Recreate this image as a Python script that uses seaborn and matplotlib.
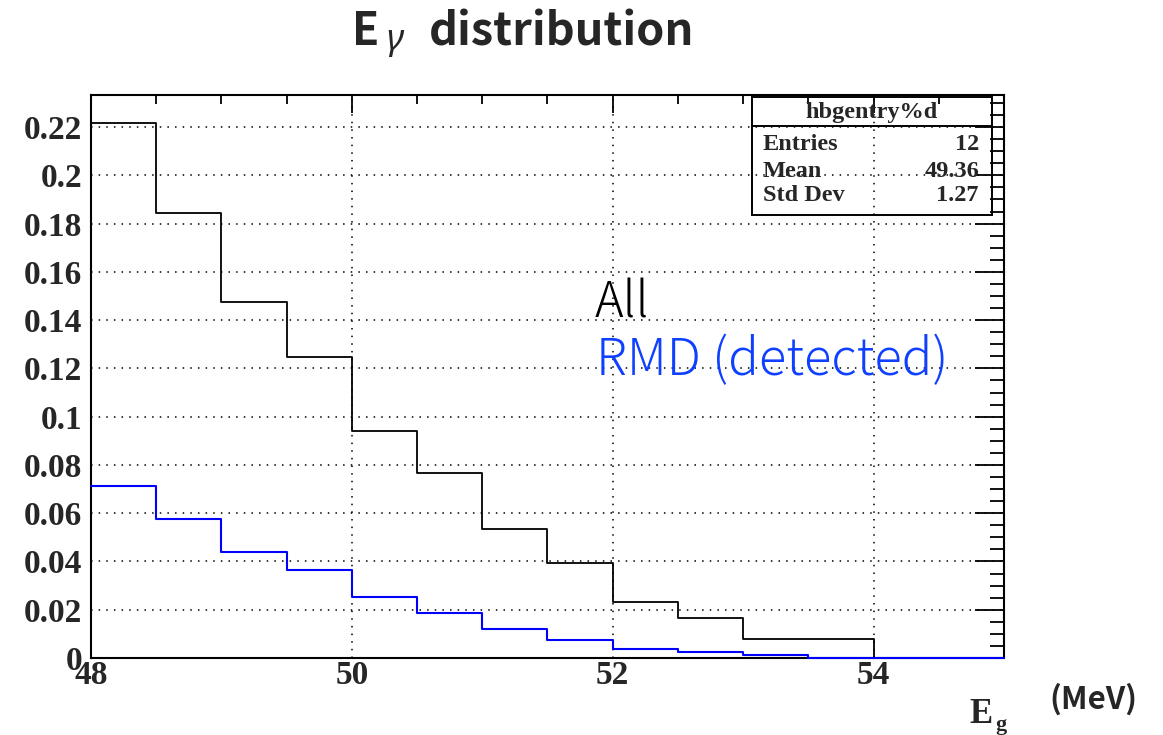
import numpy as np
import pandas as pd
import matplotlib
matplotlib.use("Agg")
import matplotlib.pyplot as plt
from matplotlib.ticker import MultipleLocator, FixedLocator, FixedFormatter
from matplotlib.patches import Rectangle
import seaborn as sns

# ---- data ----
bin_low = [48.0, 48.5, 49.0, 49.5, 50.0, 50.5, 51.0, 51.5, 52.0, 52.5, 53.0, 53.5, 54.0, 54.5]
all_vals = [0.2218, 0.1843, 0.1474, 0.1249, 0.0941, 0.0765, 0.0536, 0.0395,
            0.0233, 0.0167, 0.0078, 0.0078, 0.0, 0.0]
rmd_vals = [0.0714, 0.0576, 0.0438, 0.0365, 0.0252, 0.0185, 0.0120, 0.0075,
            0.0036, 0.0024, 0.0011, 0.0, 0.0, 0.0]
bin_width = 0.5
x_range = (48, 55)
y_max = 0.2333
x_ticks = [48, 50, 52, 54]
x_tick_labels = ["48", "50", "52", "54"]
y_ticks = [0, 0.02, 0.04, 0.06, 0.08, 0.10, 0.12, 0.14, 0.16, 0.18, 0.20, 0.22]
y_tick_labels = ["0", "0.02", "0.04", "0.06", "0.08", "0.1", "0.12", "0.14",
                 "0.16", "0.18", "0.2", "0.22"]
stats_title = "hbgentry%d"
stats_names = ["Entries", "Mean", "Std Dev"]
stats_values = ["12", "49.36", "1.27"]
label_all = "All"
label_rmd = "RMD (detected)"

df = pd.DataFrame({
    "center": [b + bin_width / 2 for b in bin_low] * 2,
    "weight": all_vals + rmd_vals,
    "series": ["All"] * len(bin_low) + ["RMD"] * len(bin_low),
})

sns.set_style("white")
plt.rcParams["font.family"] = ["Liberation Serif", "DejaVu Serif"]

W, H = 1163, 735
fig = plt.figure(figsize=(W / 100, H / 100), dpi=100)
left, right, top, bottom = 91, 1004, 95, 658
ax = fig.add_axes([left / W, 1 - bottom / H, (right - left) / W, (bottom - top) / H])

BLUE = "#0000ff"
for name, col, lw in [("All", "black", 1.3), ("RMD", BLUE, 1.5)]:
    sub = df[df["series"] == name]
    sns.histplot(data=sub, x="center", weights="weight", binwidth=bin_width,
                 binrange=x_range, element="step", fill=False, color=col,
                 linewidth=lw, ax=ax, zorder=3, clip_on=False)

ax.set_xlim(*x_range)
ax.set_ylim(0, y_max)
ax.set_xlabel("")
ax.set_ylabel("")

ax.xaxis.set_major_locator(FixedLocator(x_ticks))
ax.xaxis.set_major_formatter(FixedFormatter(x_tick_labels))
ax.xaxis.set_minor_locator(MultipleLocator(0.5))
ax.yaxis.set_major_locator(FixedLocator(y_ticks))
ax.yaxis.set_major_formatter(FixedFormatter(y_tick_labels))
ax.yaxis.set_minor_locator(MultipleLocator(0.005))

ax.tick_params(which="both", direction="in", top=True, right=True,
               color="black", width=1.3)
ax.tick_params(axis="x", which="major", length=13, pad=1.5, labelsize=24)
ax.tick_params(axis="x", which="minor", length=6.5)
ax.tick_params(axis="y", which="major", length=21, pad=6.5, labelsize=24)
ax.tick_params(axis="y", which="minor", length=10)
for lab in ax.get_xticklabels() + ax.get_yticklabels():
    lab.set_fontweight("bold")

ax.grid(True, which="major", color="black", linestyle=(0, (1, 4)), linewidth=1.1)
ax.set_axisbelow(True)
for sp in ax.spines.values():
    sp.set_color("black")
    sp.set_linewidth(1.5)
    sp.set_zorder(2.5)

# stats box (axes fraction)
bx0, bx1 = (752 - left) / (right - left), (992 - left) / (right - left)
by_top, by_bot = (bottom - 97) / (bottom - top), (bottom - 215) / (bottom - top)
by_hdr = (bottom - 126) / (bottom - top)
ax.add_patch(Rectangle((bx0, by_bot), bx1 - bx0, by_top - by_bot, transform=ax.transAxes,
                       fill=False, edgecolor="black", linewidth=1.4, zorder=5))
ax.plot([bx0, bx1], [by_hdr, by_hdr], transform=ax.transAxes, color="black",
        linewidth=1.4, zorder=5)
ax.text((bx0 + bx1) / 2, (bottom - 118) / (bottom - top), stats_title,
        transform=ax.transAxes, ha="center", va="baseline", fontsize=17.5,
        fontweight="bold", zorder=6)
row_base = [150, 177, 201]
for nm, val, yb in zip(stats_names, stats_values, row_base):
    yy = (bottom - yb) / (bottom - top)
    ax.text((763 - left) / (right - left), yy, nm, transform=ax.transAxes,
            ha="left", va="baseline", fontsize=17.5, fontweight="bold", zorder=6)
    ax.text((979 - left) / (right - left), yy, val, transform=ax.transAxes,
            ha="right", va="baseline", fontsize=17.5, fontweight="bold", zorder=6)

jp = ["Noto Sans CJK JP", "DejaVu Sans"]
ax.text((595 - left) / (right - left), (bottom - 318) / (bottom - top), label_all,
        transform=ax.transAxes, ha="left", va="baseline", fontsize=35,
        family=jp, fontweight="light", color="black", zorder=6)
ax.text((596 - left) / (right - left), (bottom - 375) / (bottom - top), label_rmd,
        transform=ax.transAxes, ha="left", va="baseline", fontsize=36.5,
        family=jp, fontweight="light", color="#1040ff", zorder=6)

# title pieces
fig.text(352 / W, 1 - 45 / H, "E", ha="left", va="baseline", fontsize=32,
         fontweight="bold", family=jp)
fig.text(386 / W, 1 - 50 / H, "\u03b3", ha="left", va="baseline", fontsize=26,
         style="italic", family=["Noto Sans", "DejaVu Sans"])
fig.text(429 / W, 1 - 45 / H, "distribution", ha="left", va="baseline", fontsize=32.5,
         fontweight="bold", family=jp)

# x axis label pieces
fig.text(969 / W, 1 - 723 / H, "E", ha="left", va="baseline", fontsize=25,
         fontweight="bold")
fig.text(995 / W, 1 - 730 / H, "g", ha="left", va="baseline", fontsize=16,
         fontweight="bold")
fig.text(1049 / W, 1 - 709 / H, "(MeV)", ha="left", va="baseline", fontsize=22.5,
         fontweight="bold", family=jp)

fig.savefig("out.png", dpi=100)
